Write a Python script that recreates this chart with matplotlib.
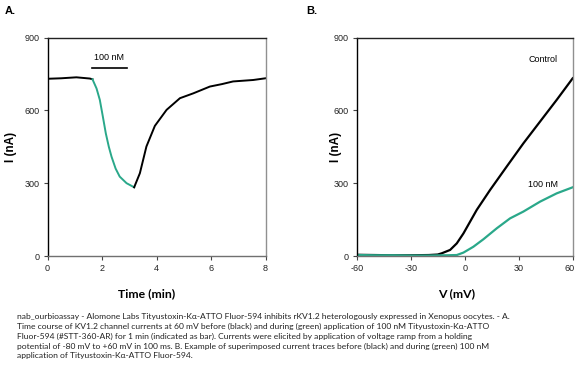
#!/usr/bin/env python3

import numpy as np
import matplotlib
matplotlib.use('Agg')
import matplotlib.pyplot as plt
import matplotlib.transforms as mtransforms

# panel A: time course at +60 mV
time_ctrl_pre = [0.0, 0.5, 1.06, 1.55, 1.65]
cur_ctrl_pre = [730, 732, 736, 731, 728]
time_tox = [1.65, 1.8, 1.92, 2.03, 2.14, 2.25, 2.35, 2.5, 2.65, 2.9, 3.18]
cur_tox = [728, 690, 643, 575, 505, 450, 409, 360, 327, 300, 283]
time_ctrl_post = [3.18, 3.39, 3.63, 3.94, 4.37, 4.86, 5.35, 5.96, 6.4, 6.81, 7.55, 8.0]
cur_ctrl_post = [283, 341, 451, 536, 602, 650, 670, 698, 708, 719, 725, 732]
bar_start, bar_end, bar_level = 1.65, 2.92, 775

# panel B: current traces during voltage ramp
v_ctrl = [-60, -50, -40, -30, -20, -15, -12.8, -8.1, -4.4, -0.7, 6.7, 14.1, 23.3, 32.6, 41.9, 51.1, 60]
i_ctrl = [5, 4, 3, 3, 4, 6, 11, 25, 52, 93, 190, 272, 368, 464, 554, 643, 732]
v_tox = [-60, -50, -40, -30, -20, -10, -4.4, -0.7, 4.8, 10.4, 17.8, 25.2, 32.6, 41.9, 51.1, 60]
i_tox = [4, 3, 3, 2, 2, 3, 4, 14, 38, 69, 114, 155, 183, 224, 258, 283]

green = '#2aa88a'
caption = ("nab_ourbioassay - Alomone Labs Tityustoxin-K\u03b1-ATTO Fluor-594 inhibits rKV1.2 heterologously expressed in Xenopus oocytes. - A.\n"
           "Time course of KV1.2 channel currents at 60 mV before (black) and during (green) application of 100 nM Tityustoxin-K\u03b1-ATTO\n"
           "Fluor-594 (#STT-360-AR) for 1 min (indicated as bar). Currents were elicited by application of voltage ramp from a holding\n"
           "potential of -80 mV to +60 mV in 100 ms. B. Example of superimposed current traces before (black) and during (green) 100 nM\n"
           "application of Tityustoxin-K\u03b1-ATTO Fluor-594.")

plt.rcParams['font.family'] = ['Liberation Sans', 'DejaVu Sans']
plt.rcParams['axes.unicode_minus'] = False

fig = plt.figure(figsize=(5.76, 3.73), dpi=100)
W, H = 576.0, 373.0

def style(ax, ylab_x) :
	ax.set_ylim(0, 900)
	ax.set_yticks([0, 300, 600, 900])
	ax.spines['left'].set_color('black')
	ax.spines['top'].set_color('#222222')
	ax.spines['right'].set_color('#909090')
	ax.spines['bottom'].set_color('#707070')
	for s in ax.spines.values() :
		s.set_linewidth(1.0)
	ax.tick_params(direction='out', length=3, width=0.8, labelsize=6.5, pad=3,
		colors='#444444', labelcolor='#222222', top=False, right=False)
	ax.set_ylabel('I (nA)', fontsize=8.5, fontweight='bold')
	ax.yaxis.set_label_coords(ylab_x, 0.5)

# panel A
axA = fig.add_axes([47.5 / W, 1 - 256 / H, 218 / W, 218.5 / H])
axA.plot(time_ctrl_pre, cur_ctrl_pre, color='black', lw=1.4)
axA.plot(time_tox, cur_tox, color=green, lw=1.4)
axA.plot(time_ctrl_post, cur_ctrl_post, color='black', lw=1.4)
axA.plot([bar_start, bar_end], [bar_level, bar_level], color='black', lw=1.2)
axA.text((bar_start + bar_end) / 2 - 0.02, 819, '100 nM', fontsize=6.5, ha='center', va='center')
axA.set_xlim(0, 8)
axA.set_xticks([0, 2, 4, 6, 8])
style(axA, (17 - 47.5) / 218)

# panel B
axB = fig.add_axes([356.7 / W, 1 - 256 / H, 216 / W, 218.5 / H])
axB.plot(v_ctrl, i_ctrl, color='black', lw=1.6)
axB.plot(v_tox, i_tox, color=green, lw=1.6)
axB.text(43.5, 808, 'Control', fontsize=6.5, ha='center', va='center')
axB.text(43.5, 293, '100 nM', fontsize=6.5, ha='center', va='center')
axB.set_xlim(-60, 60)
axB.set_xticks([-60, -30, 0, 30, 60])
style(axB, (342 - 356.7) / 216)

# last tick label sits on the figure edge, nudge it in a bit
fig.canvas.draw()
last = axB.get_xticklabels()[-1]
last.set_transform(last.get_transform() + mtransforms.ScaledTranslation(-3 / 100, 0, fig.dpi_scale_trans))

xfont = ['Lato', 'DejaVu Sans']
fig.text(147 / W, 1 - 294 / H, 'Time (min)', fontsize=8.8, fontweight='bold', ha='center', va='center', family=xfont)
fig.text(457 / W, 1 - 294 / H, 'V (mV)', fontsize=8.8, fontweight='bold', ha='center', va='center', family=xfont)

fig.text(5 / W, 1 - 11 / H, 'A.', fontsize=8, fontweight='bold', va='center')
fig.text(306 / W, 1 - 11 / H, 'B.', fontsize=8, fontweight='bold', va='center')

fig.text(17 / W, 1 - 313 / H, caption, fontsize=6.1, va='top', ha='left', linespacing=1.45,
	family=xfont, color='#222222')

fig.savefig('out.png', dpi=100)
